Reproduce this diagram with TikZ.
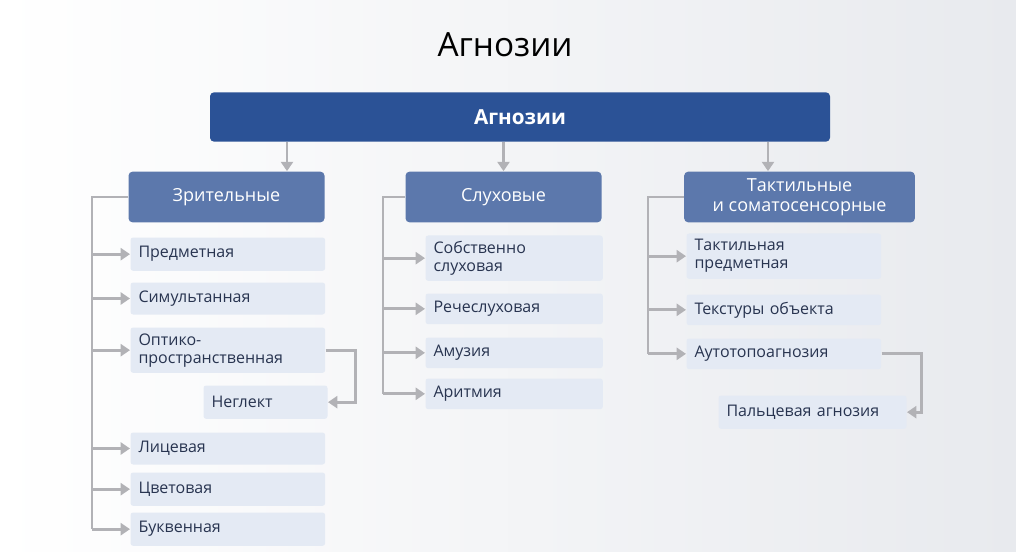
\documentclass[tikz,border=0pt]{standalone}
\usepackage{fontspec}
\setmainfont{Open Sans}
\usetikzlibrary{arrows.meta}
\definecolor{topblue}{RGB}{43,82,150}
\definecolor{catblue}{RGB}{92,120,172}
\definecolor{itemfill}{RGB}{228,234,244}
\definecolor{itemtext}{RGB}{40,52,80}
\definecolor{linegray}{RGB}{178,178,182}
\tikzset{every picture/.style={line width=0.75pt}}
\tikzset{
  catbox/.style={fill=catblue, rounded corners=3pt, text=white, font=\fontsize{13.5}{15}\selectfont, align=center, inner sep=0pt},
  itembox/.style={fill=itemfill, rounded corners=2pt, text=itemtext, font=\fontsize{12}{13.5}\selectfont, align=left, inner ysep=0pt, inner xsep=6pt},
  conn/.style={draw=linegray, line width=2.2pt, -{Triangle[length=7pt,width=9pt]}},
  trunk/.style={draw=linegray, line width=2.2pt}
}
\begin{document}
\begin{tikzpicture}[x=0.75pt,y=0.75pt,yscale=-1,xscale=1]
    \useasboundingbox (0,0) rectangle (1016,552);
    %Background
    \fill [left color=white, right color={rgb,255:red,232;green,234;blue,238}] (0,0) rectangle (1016,552);

    %Title
    \node (title) at (505,45) {\fontsize{25}{27}\selectfont Агнозии};

    %Top bar
    \node (top) [fill=topblue, rounded corners=3pt, text=white, minimum width=465pt, minimum height=37pt] at (520,117) {\fontsize{15.5}{17}\selectfont\bfseries Агнозии};

    %Categories
    \node (vis) [catbox, minimum width=147pt, minimum height=38pt] at (226.5,197) {Зрительные};
    \node (aud) [catbox, minimum width=147pt, minimum height=38pt] at (503.5,197) {Слуховые};
    \node (tac) [catbox, minimum width=173pt, minimum height=38pt] at (799.5,197) {Тактильные\\и соматосенсорные};

    \coordinate (t1) at (287,142);
    \coordinate (t2) at (503.5,142);
    \coordinate (t3) at (768,142);
    \draw [conn] (t1) -- (t1 |- vis.north);
    \draw [conn] (t2) -- (t2 |- aud.north);
    \draw [conn] (t3) -- (t3 |- tac.north);

    %Items: visual
    \node (v1) [itembox, anchor=north west, minimum width=146pt, minimum height=25pt, text width=134pt] at (130,237) {Предметная};
    \node (v2) [itembox, anchor=north west, minimum width=146pt, minimum height=24pt, text width=134pt] at (130,282) {Симультанная};
    \node (v3) [itembox, anchor=north west, minimum width=146pt, minimum height=34pt, text width=134pt] at (130,327) {Оптико-\\пространственная};
    \node (v4) [itembox, anchor=north west, minimum width=93pt, minimum height=25pt, text width=81pt] at (203,385) {Неглект};
    \node (v5) [itembox, anchor=north west, minimum width=146pt, minimum height=24pt, text width=134pt] at (130,432) {Лицевая};
    \node (v6) [itembox, anchor=north west, minimum width=146pt, minimum height=25pt, text width=134pt] at (130,472) {Цветовая};
    \node (v7) [itembox, anchor=north west, minimum width=146pt, minimum height=25pt, text width=134pt] at (130,512) {Буквенная};

    %Items: auditory
    \node (a1) [itembox, anchor=north west, minimum width=133pt, minimum height=34pt, text width=121pt] at (425,235) {Собственно\\слуховая};
    \node (a2) [itembox, anchor=north west, minimum width=133pt, minimum height=23pt, text width=121pt] at (425,293) {Речеслуховая};
    \node (a3) [itembox, anchor=north west, minimum width=133pt, minimum height=23pt, text width=121pt] at (425,337) {Амузия};
    \node (a4) [itembox, anchor=north west, minimum width=133pt, minimum height=23pt, text width=121pt] at (425,378) {Аритмия};

    %Items: tactile
    \node (k1) [itembox, anchor=north west, minimum width=146pt, minimum height=34pt, text width=134pt] at (686,233) {Тактильная\\предметная};
    \node (k2) [itembox, anchor=north west, minimum width=146pt, minimum height=23pt, text width=134pt] at (686,294) {Текстуры объекта};
    \node (k3) [itembox, anchor=north west, minimum width=146pt, minimum height=23pt, text width=134pt] at (686,338) {Аутотопоагнозия};
    \node (k4) [itembox, anchor=north west, minimum width=141pt, minimum height=25pt, text width=129pt] at (718,395) {Пальцевая агнозия};

    %Trunks
    \coordinate (vt) at (92,197);
    \coordinate (at) at (383,197);
    \coordinate (kt) at (648,197);
    \draw [trunk] (vis.west) -- (vt) -- (vt |- v7.west);
    \draw [trunk] (aud.west) -- (at) -- (at |- a4.west);
    \draw [trunk] (tac.west) -- (kt) -- (kt |- k3.west);

    %Branches
    \foreach \n in {v1,v2,v3,v5,v6,v7} \draw [conn] (vt |- \n.west) -- (\n.west);
    \foreach \n in {a1,a2,a3,a4} \draw [conn] (at |- \n.west) -- (\n.west);
    \foreach \n in {k1,k2,k3} \draw [conn] (kt |- \n.west) -- (\n.west);

    %Sub-branches
    \draw [conn] (v3.east) -- ++(30,0) |- (v4.east);
    \draw [conn] (k3.east) -- ++(40,0) |- (k4.east);
\end{tikzpicture}
\end{document}
